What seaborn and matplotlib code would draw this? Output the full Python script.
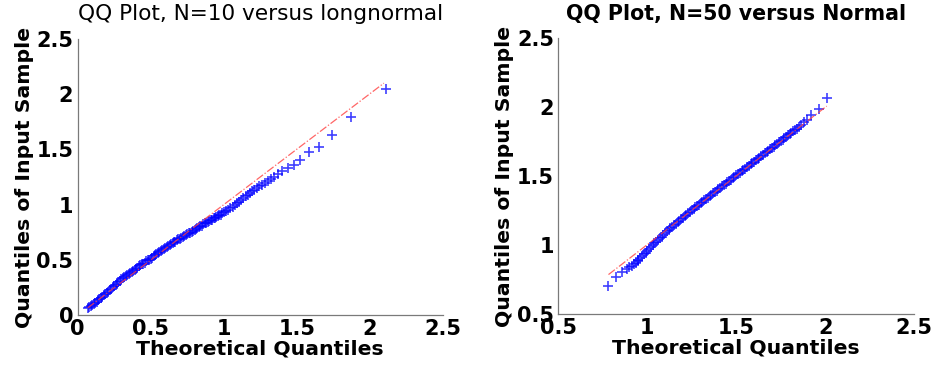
import matplotlib
matplotlib.use("Agg")
import matplotlib.pyplot as plt
import seaborn as sns
import pandas as pd

# ---- data ----
left_title = "QQ Plot, N=10 versus longnormal"
right_title = "QQ Plot, N=50 versus Normal"
xlabel = "Theoretical Quantiles"
ylabel = "Quantiles of Input Sample"

left_x = [0.07, 0.08, 0.09, 0.10, 0.11, 0.12, 0.13, 0.14, 0.15, 0.16, 0.17, 0.18, 0.19,
          0.20, 0.21, 0.22, 0.23, 0.24, 0.25, 0.26, 0.27, 0.28, 0.29, 0.30, 0.31, 0.32,
          0.33, 0.34, 0.35, 0.36, 0.37, 0.38, 0.39, 0.40, 0.41, 0.42, 0.43, 0.44, 0.45,
          0.46, 0.47, 0.48, 0.49, 0.50, 0.51, 0.52, 0.53, 0.54, 0.55, 0.56, 0.57, 0.58,
          0.59, 0.60, 0.61, 0.62, 0.63, 0.64, 0.65, 0.66, 0.67, 0.68, 0.69, 0.70, 0.71,
          0.72, 0.73, 0.74, 0.75, 0.76, 0.77, 0.78, 0.79, 0.80, 0.81, 0.82, 0.83, 0.84,
          0.85, 0.86, 0.87, 0.88, 0.89, 0.90, 0.91, 0.92, 0.93, 0.94, 0.95, 0.96, 0.97,
          0.98, 0.99, 1.00, 1.015, 1.03, 1.045, 1.06, 1.075, 1.09, 1.105, 1.12, 1.135,
          1.15, 1.165, 1.18, 1.195, 1.21, 1.225, 1.24, 1.26, 1.28, 1.30, 1.32, 1.345,
          1.37, 1.40, 1.44, 1.48, 1.52, 1.58, 1.65, 1.74, 1.87, 2.11]
left_y = [0.06, 0.07, 0.08, 0.09, 0.10, 0.11, 0.12, 0.135, 0.145, 0.155, 0.165, 0.18, 0.19,
          0.20, 0.21, 0.225, 0.235, 0.25, 0.26, 0.275, 0.285, 0.30, 0.31, 0.325, 0.335, 0.345,
          0.355, 0.365, 0.37, 0.38, 0.39, 0.40, 0.41, 0.42, 0.43, 0.44, 0.45, 0.46, 0.465,
          0.475, 0.485, 0.495, 0.50, 0.51, 0.52, 0.53, 0.54, 0.55, 0.56, 0.57, 0.58, 0.59,
          0.60, 0.61, 0.615, 0.625, 0.635, 0.64, 0.65, 0.66, 0.665, 0.675, 0.685, 0.69, 0.70,
          0.71, 0.715, 0.725, 0.73, 0.74, 0.745, 0.755, 0.765, 0.77, 0.78, 0.79, 0.795, 0.805,
          0.81, 0.82, 0.83, 0.835, 0.845, 0.85, 0.86, 0.865, 0.875, 0.88, 0.89, 0.895, 0.905,
          0.91, 0.92, 0.93, 0.94, 0.955, 0.97, 0.98, 0.995, 1.01, 1.025, 1.045, 1.06,
          1.075, 1.09, 1.105, 1.12, 1.135, 1.15, 1.165, 1.18, 1.195, 1.21, 1.23, 1.25,
          1.275, 1.305, 1.335, 1.36, 1.40, 1.48, 1.525, 1.63, 1.79, 2.045]
left_ref_x = [0.07, 2.095]
left_ref_y = [0.065, 2.10]

right_x = [0.782, 0.823, 0.857, 0.885, 0.90, 0.913, 0.925, 0.935, 0.945,
           0.95, 0.96, 0.97, 0.98, 0.99, 1.00, 1.01, 1.02, 1.03, 1.04, 1.05, 1.06, 1.07,
           1.08, 1.09, 1.10, 1.11, 1.12, 1.13, 1.14, 1.15, 1.16, 1.17, 1.18, 1.19, 1.20,
           1.21, 1.22, 1.23, 1.24, 1.25, 1.26, 1.27, 1.28, 1.29, 1.30, 1.31, 1.32, 1.33,
           1.34, 1.35, 1.36, 1.37, 1.38, 1.39, 1.40, 1.41, 1.42, 1.43, 1.44, 1.45, 1.46,
           1.47, 1.48, 1.49, 1.50, 1.51, 1.52, 1.53, 1.54, 1.55, 1.56, 1.57, 1.58, 1.59,
           1.60, 1.61, 1.62, 1.63, 1.64, 1.65, 1.66, 1.67, 1.68, 1.69, 1.70, 1.71, 1.72,
           1.73, 1.74, 1.75, 1.76, 1.77, 1.78, 1.79, 1.80, 1.81, 1.82, 1.83, 1.84, 1.85,
           1.865, 1.88, 1.90, 1.922, 1.965, 2.008]
right_y = [0.70, 0.766, 0.803, 0.827, 0.84, 0.851, 0.862, 0.872, 0.882,
           0.893, 0.905, 0.918, 0.932, 0.946, 0.96, 0.973, 0.986, 0.999, 1.012, 1.025, 1.038, 1.05,
           1.062, 1.075, 1.087, 1.099, 1.11, 1.122, 1.133, 1.144, 1.155, 1.166, 1.177, 1.188, 1.199,
           1.21, 1.22, 1.231, 1.242, 1.252, 1.263, 1.273, 1.284, 1.294, 1.304, 1.314, 1.325, 1.335,
           1.345, 1.355, 1.365, 1.375, 1.385, 1.395, 1.405, 1.415, 1.425, 1.435, 1.445, 1.455, 1.465,
           1.475, 1.485, 1.495, 1.505, 1.515, 1.525, 1.535, 1.545, 1.555, 1.565, 1.575, 1.585, 1.595,
           1.605, 1.615, 1.625, 1.635, 1.645, 1.655, 1.665, 1.675, 1.685, 1.695, 1.705, 1.715, 1.725,
           1.735, 1.745, 1.755, 1.765, 1.775, 1.785, 1.795, 1.805, 1.815, 1.825, 1.835, 1.845, 1.855,
           1.87, 1.89, 1.91, 1.942, 1.986, 2.068]
right_ref_x = [0.782, 2.008]
right_ref_y = [0.786, 2.008]

left_ticks = [0, 0.5, 1, 1.5, 2, 2.5]
left_ticklabels = ["0", "0.5", "1", "1.5", "2", "2.5"]
right_ticks = [0.5, 1, 1.5, 2, 2.5]
right_ticklabels = ["0.5", "1", "1.5", "2", "2.5"]

# ---- style ----
sns.set_theme(style="white")
plt.rcParams["font.family"] = ["DejaVu Sans"]

fig = plt.figure(figsize=(9.33, 3.75), dpi=100)
ax1 = fig.add_axes([0.0831, 0.160, 0.3918, 0.736])
ax2 = fig.add_axes([0.5984, 0.1627, 0.3815, 0.7351])

spine_color = "#7a7a7a"


def style_axes(ax, ticks, ticklabels, lo, hi, title, title_bold):
    ax.set_xlim(lo, hi)
    ax.set_ylim(lo, hi)
    ax.set_xticks(ticks)
    ax.set_yticks(ticks)
    ax.set_xticklabels(ticklabels, fontsize=15, fontweight="bold", color="black")
    ax.set_yticklabels(ticklabels, fontsize=15, fontweight="bold", color="black")
    for s in ["top", "right"]:
        ax.spines[s].set_visible(False)
    for s in ["left", "bottom"]:
        ax.spines[s].set_visible(True)
        ax.spines[s].set_color(spine_color)
        ax.spines[s].set_linewidth(0.9)
    ax.tick_params(axis="both", direction="in", length=3, width=0.8,
                   color=spine_color, labelcolor="black")
    ax.tick_params(axis="x", pad=3)
    ax.tick_params(axis="y", pad=3)
    ax.set_xlabel(xlabel, fontsize=14.7, fontweight="bold", labelpad=0, color="black")
    ax.set_ylabel(ylabel, fontsize=14.7, fontweight="bold", labelpad=2, color="black")
    ax.set_title(title, fontsize=15.6 if not title_bold else 14.8,
                 fontweight="bold" if title_bold else "normal", pad=13.5, color="black")
    ax.grid(False)


df_l = pd.DataFrame({"x": left_x, "y": left_y})
df_r = pd.DataFrame({"x": right_x, "y": right_y})

sns.lineplot(x=left_ref_x, y=left_ref_y, ax=ax1, color="#ff4040", linestyle="-.",
             linewidth=0.9, alpha=0.8)
sns.scatterplot(data=df_l, x="x", y="y", ax=ax1, marker="+", s=45, color="blue",
                linewidth=1.2, alpha=0.75)

sns.lineplot(x=right_ref_x, y=right_ref_y, ax=ax2, color="#ff4040", linestyle="-.",
             linewidth=0.9, alpha=0.8)
sns.scatterplot(data=df_r, x="x", y="y", ax=ax2, marker="+", s=45, color="blue",
                linewidth=1.2, alpha=0.75)

style_axes(ax1, left_ticks, left_ticklabels, 0, 2.5, left_title, False)
style_axes(ax2, right_ticks, right_ticklabels, 0.5, 2.5, right_title, True)

fig.savefig("out.png", dpi=100)
